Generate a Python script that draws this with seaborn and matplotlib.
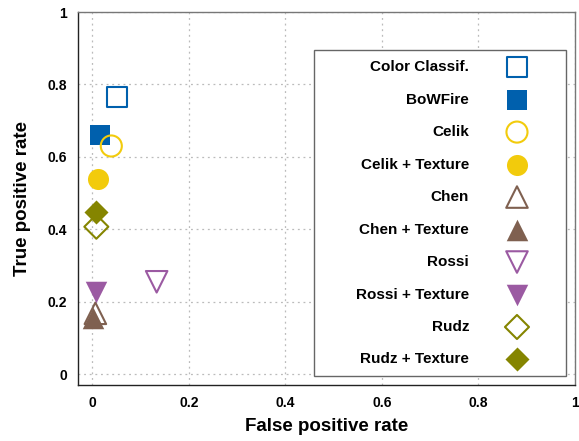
import matplotlib
matplotlib.use("Agg")
import matplotlib.pyplot as plt
import matplotlib.patches as mpatches
import seaborn as sns
import pandas as pd

methods = ["Color Classif.", "BoWFire", "Celik", "Celik + Texture", "Chen",
           "Chen + Texture", "Rossi", "Rossi + Texture", "Rudz", "Rudz + Texture"]
fpr = [0.051, 0.016, 0.039, 0.012, 0.006, 0.001, 0.133, 0.008, 0.008, 0.008]
tpr = [0.765, 0.660, 0.630, 0.539, 0.168, 0.155, 0.255, 0.227, 0.407, 0.448]
colors = ["#0060ad", "#0060ad", "#f2cb0c", "#f2cb0c", "#7f6050",
          "#7f6050", "#9b5aa2", "#9b5aa2", "#858500", "#858500"]
markers = ["s", "s", "o", "o", "^", "^", "v", "v", "D", "D"]
filled = [False, True, False, True, False, True, False, True, False, True]
sizes = [210, 210, 230, 230, 240, 240, 240, 240, 150, 150]
ticks = [0, 0.2, 0.4, 0.6, 0.8, 1]
tick_labels = ["0", "0.2", "0.4", "0.6", "0.8", "1"]

sns.set_style("white")
plt.rcParams["font.family"] = ["Liberation Sans", "DejaVu Sans"]
plt.rcParams["font.weight"] = "bold"
plt.rcParams["text.color"] = "black"
plt.rcParams["axes.labelcolor"] = "black"
plt.rcParams["xtick.color"] = "black"
plt.rcParams["ytick.color"] = "black"

fig = plt.figure(figsize=(5.79, 4.41), dpi=100)
ax = fig.add_axes([78/579, 56/441, 497/579, 373/441])

df = pd.DataFrame({"method": methods, "fpr": fpr, "tpr": tpr})
for i, m in enumerate(methods):
    sub = df[df.method == m]
    if filled[i]:
        sns.scatterplot(data=sub, x="fpr", y="tpr", marker=markers[i], s=sizes[i],
                        color=colors[i], edgecolor=colors[i], linewidth=0,
                        label=m, ax=ax, zorder=3)
    else:
        sns.scatterplot(data=sub, x="fpr", y="tpr", marker=markers[i], s=sizes[i],
                        facecolor="none", edgecolor=colors[i], linewidth=1.5,
                        label=m, ax=ax, zorder=3)

ax.set_xlim(-0.03, 1.0)
ax.set_ylim(-0.03, 1.0)
ax.set_xticks(ticks)
ax.set_xticklabels(tick_labels)
ax.set_yticks(ticks)
ax.set_yticklabels(tick_labels)
ax.tick_params(labelsize=10, length=4, direction="in", color="#222222", pad=8)
for lab in ax.get_xticklabels() + ax.get_yticklabels():
    lab.set_fontweight("bold")
ax.grid(True, linestyle=(0, (1.5, 3)), color="#bbbbbb", linewidth=0.9)
for name, s in ax.spines.items():
    s.set_linewidth(1.0)
    s.set_color("#222222" if name in ("left", "bottom") else "#777777")
ax.set_xlabel("False positive rate", fontsize=13.5, fontweight="bold", labelpad=6)
ax.set_ylabel("True positive rate", fontsize=13.5, fontweight="bold", labelpad=12)

# legend frame drawn separately (wide box as in reference)
ax.add_patch(mpatches.Rectangle((0.475, 0.024), 0.507, 0.874, transform=ax.transAxes,
                                facecolor="white", edgecolor="#666666", linewidth=1.0,
                                zorder=4))
leg = ax.legend(loc="upper right", bbox_to_anchor=(0.914, 0.871), markerfirst=False,
                frameon=False, labelspacing=1.21, borderpad=0, handletextpad=2.14,
                borderaxespad=0, handlelength=2.0,
                prop={"weight": "bold", "size": 11})
leg.set_zorder(5)
for t in leg.get_texts():
    t.set_ha("right")
    t.set_color("black")

fig.savefig("out.png", dpi=100)
